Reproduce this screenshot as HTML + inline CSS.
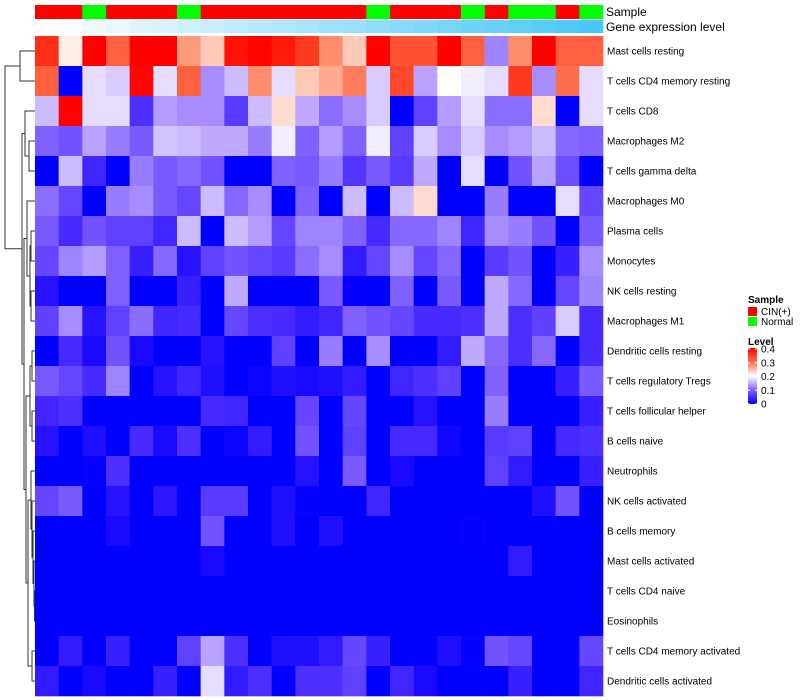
<!DOCTYPE html>
<html><head><meta charset="utf-8"><style>
body{margin:0;background:#fff;}
svg{display:block;font-family:"Liberation Sans",sans-serif;}
</style></head><body>
<svg id="chart" width="800" height="700" viewBox="0 0 800 700" xmlns="http://www.w3.org/2000/svg">
<g id="dendro"></g>
<g id="annot"></g>
<g id="cells"></g>
<g id="rowlabels"></g>
<text x="606" y="16" font-size="12">Sample</text>
<text x="606" y="31" font-size="12">Gene expression level</text>
<g>
<text x="748" y="303" font-size="10" font-weight="bold">Sample</text>
<rect x="748" y="307" width="9" height="9" fill="#ff0000"/>
<text x="761" y="315" font-size="10">CIN(+)</text>
<rect x="748" y="317" width="9" height="9" fill="#00ff00"/>
<text x="761" y="325" font-size="10">Normal</text>
</g>
<g>
<defs><linearGradient id="lg" x1="0" y1="1" x2="0" y2="0">
<stop offset="0" stop-color="#0000ff"/><stop offset="0.25" stop-color="#8060ff"/><stop offset="0.5" stop-color="#ffffff"/><stop offset="0.75" stop-color="#ff7050"/><stop offset="1" stop-color="#ff0000"/></linearGradient></defs>
<text x="748" y="345" font-size="10" font-weight="bold">Level</text>
<rect x="748" y="348" width="9" height="56" fill="url(#lg)"/>
<g id="legticks"></g>
</g>
</svg>
<script>
const rowNames=["Mast cells resting","T cells CD4 memory resting","T cells CD8","Macrophages M2","T cells gamma delta","Macrophages M0","Plasma cells","Monocytes","NK cells resting","Macrophages M1","Dendritic cells resting","T cells regulatory  Tregs","T cells follicular helper","B cells naive","Neutrophils","NK cells activated","B cells memory","Mast cells activated","T cells CD4 naive","Eosinophils","T cells CD4 memory activated","Dendritic cells activated"];
const sampleGroups=["CIN(+)","CIN(+)","Normal","CIN(+)","CIN(+)","CIN(+)","Normal","CIN(+)","CIN(+)","CIN(+)","CIN(+)","CIN(+)","CIN(+)","CIN(+)","Normal","CIN(+)","CIN(+)","CIN(+)","Normal","CIN(+)","Normal","Normal","CIN(+)","Normal"];
const geneLevel=[0,1,2,3,4,5,6,7,8,9,10,11,12,13,14,15,16,17,18,19,20,21,22,23];
const r1=[0.34,0.21,0.4,0.3,0.4,0.4,0.26,0.23,0.37,0.39,0.36,0.33,0.27,0.23,0.4,0.31,0.31,0.4,0.3,0.125,0.27,0.4,0.3,0.3];
const r2=[0.3,0,0.18,0.17,0.39,0.18,0.3,0.13,0.16,0.27,0.18,0.23,0.25,0.28,0.17,0.32,0.145,0.2,0.19,0.18,0.33,0.13,0.29,0.18];
const r3=[0.16,0.4,0.18,0.18,0.06,0.14,0.13,0.13,0.07,0.16,0.22,0.15,0.11,0.13,0.17,0,0.075,0.14,0.18,0.11,0.11,0.22,0,0.18];
const r4=[0.1,0.09,0.145,0.12,0.095,0.165,0.16,0.15,0.15,0.12,0.19,0.1,0.14,0.1,0.19,0.075,0.17,0.13,0.17,0.13,0.14,0.16,0.105,0.1];
const r5=[0,0.16,0.05,0,0.12,0.095,0.105,0.09,0,0,0.1,0.095,0.12,0.065,0.095,0.07,0.15,0,0.18,0,0.09,0.145,0.085,0];
const r6=[0.11,0.08,0,0.12,0.13,0.095,0.08,0.16,0.105,0.13,0,0.1,0,0.16,0,0.16,0.22,0,0,0.12,0,0,0.18,0.08];
const r7=[0.095,0.055,0.09,0.075,0.075,0.05,0.16,0,0.16,0.14,0.08,0.125,0.125,0.1,0.055,0.105,0.105,0.125,0.05,0.13,0.12,0.09,0,0.095];
const r8=[0.08,0.125,0.14,0.1,0.045,0.105,0.03,0.075,0.09,0.08,0.07,0.11,0.13,0.04,0.08,0.13,0.08,0.105,0,0.07,0.09,0,0.045,0.13];
const r9=[0.03,0,0,0.1,0,0,0.045,0,0.15,0,0,0,0.095,0.005,0,0.1,0,0.095,0,0.15,0.105,0,0.08,0.125];
const r10=[0.075,0.13,0.03,0.075,0.11,0.05,0.055,0,0.08,0.06,0.055,0.04,0.05,0.1,0.09,0.08,0.055,0.055,0.06,0.15,0.06,0.075,0.17,0.055];
const r11=[0,0.055,0.02,0.09,0.02,0,0,0.03,0,0,0.075,0,0.12,0,0.13,0,0,0.04,0.15,0.105,0.06,0.105,0,0.055];
const r12=[0.095,0.08,0.055,0.125,0,0.03,0.05,0.025,0,0.01,0.025,0.02,0.025,0.04,0,0.05,0.06,0.075,0,0.1,0,0,0.045,0.095];
const r13=[0.05,0.06,0,0,0,0,0,0.055,0.05,0,0,0.08,0,0.08,0,0,0.03,0,0,0.12,0,0,0,0.045];
const r14=[0.03,0,0.025,0,0.055,0.02,0.06,0,0.01,0.04,0,0.09,0,0.075,0,0.055,0.055,0.015,0,0.07,0.075,0,0.055,0.06];
const r15=[0,0,0.005,0.06,0,0,0,0,0,0,0,0.03,0,0.095,0,0.02,0,0,0,0.075,0.04,0,0,0.045];
const r16=[0.08,0.095,0,0.03,0,0.035,0,0.07,0.07,0,0.025,0.005,0,0,0.05,0,0,0,0,0,0,0.025,0.09,0];
const r17=[0,0,0,0.02,0,0,0,0.09,0,0,0.025,0,0.025,0,0,0,0,0,0.005,0,0,0,0,0];
const r18=[0,0,0,0,0,0,0,0.02,0,0,0,0,0,0,0,0,0,0,0,0,0.04,0,0,0];
const r19=[0,0,0,0,0,0,0,0,0,0,0,0,0,0,0,0,0,0,0,0,0,0,0,0];
const r20=[0,0,0,0,0,0,0,0,0,0,0,0,0,0,0,0,0,0,0,0,0,0,0,0];
const r21=[0,0.04,0,0.045,0,0,0.075,0.145,0.06,0,0.025,0.025,0.04,0.08,0.045,0,0,0.025,0.005,0.09,0.08,0,0,0.08];
const r22=[0.04,0,0.02,0,0,0.045,0,0.18,0.04,0.06,0,0.06,0.06,0.075,0,0.05,0.02,0,0,0,0.045,0,0,0.05];
const values=[r1,r2,r3,r4,r5,r6,r7,r8,r9,r10,r11,r12,r13,r14,r15,r16,r17,r18,r19,r20,r21,r22];
const legendTicks=[0,0.1,0.2,0.3,0.4];

const NS="http://www.w3.org/2000/svg";
const X0=35,X1=603,Y0=36,RH=30,nC=24;
const CW=(X1-X0)/nC;
const xPos=i=>X0+i*CW;
const yPos=j=>Y0+j*RH;
const VMAX=0.4;
function col(v){v=Math.max(0,Math.min(VMAX,v));const t=v/(VMAX/2);
 if(t<=1){return `rgb(${Math.round(255*t)},${Math.round(255*Math.pow(t,1.4))},255)`;}
 const s=2-t;return `rgb(255,${Math.round(255*Math.pow(s,1.4))},${Math.round(255*s*s)})`;}
function mk(tag,attrs,parent){const e=document.createElementNS(NS,tag);for(const k in attrs)e.setAttribute(k,attrs[k]);parent.appendChild(e);return e;}

const cells=document.getElementById('cells');
values.forEach((row,j)=>row.forEach((v,i)=>{
 const r=mk('rect',{x:xPos(i),y:yPos(j),width:CW+0.3,height:RH+0.3,fill:col(v)},cells);
 
 
}));
const rl=document.getElementById('rowlabels');
rowNames.forEach((n,j)=>{
 const t=mk('text',{x:607,y:yPos(j)+RH/2+3.5,'font-size':10,fill:'#000'},rl);
 t.textContent=n;
 
 
});
const an=document.getElementById('annot');
const gMax=Math.max(...geneLevel);
sampleGroups.forEach((g,i)=>{
 const r=mk('rect',{x:xPos(i),y:5,width:CW+0.3,height:14,fill:g==="Normal"?'#00ff00':'#ff0000'},an);
 
 
});
geneLevel.forEach((g,i)=>{
 const t=g/gMax;
 const rr=Math.round(255+(72-255)*t),gg=Math.round(255+(200-255)*t),bb=Math.round(255+(248-255)*t);
 const r=mk('rect',{x:xPos(i),y:20,width:CW+0.3,height:13,fill:`rgb(${rr},${gg},${bb})`},an);
 
 
});
const lt=document.getElementById('legticks');
legendTicks.forEach(v=>{
 const y=404-(v/VMAX)*55;
 mk('line',{x1:748,x2:750,y1:y,y2:y,stroke:'#fff','stroke-width':1},lt);
 mk('line',{x1:755,x2:757,y1:y,y2:y,stroke:'#fff','stroke-width':1},lt);
 const t=mk('text',{x:761,y:y+3.5,'font-size':10},lt);
 t.textContent=String(v);
 
 
});
const tree=[30,[15,0,1],[13,[10,2,[6,3,4]],[11,[8,5,[5,[4,6,7],[4,8,9]]],[9,[5,[3,10,11],[3,12,13]],[7,[4,14,[3,15,[2,16,[1,17,[0.5,18,19]]]]],[3,20,21]]]]]];
const dg=document.getElementById('dendro');
function draw(n){
 if(typeof n==='number')return {x:X0,y:yPos(n)+RH/2};
 const a=draw(n[1]),b=draw(n[2]);const x=X0-n[0];const y=(a.y+b.y)/2;
 mk('path',{d:`M${a.x},${a.y}H${x}V${b.y}H${b.x}`,fill:'none',stroke:'#333','stroke-width':1},dg);
 return {x,y};
}
draw(tree);
</script>
</body></html>
